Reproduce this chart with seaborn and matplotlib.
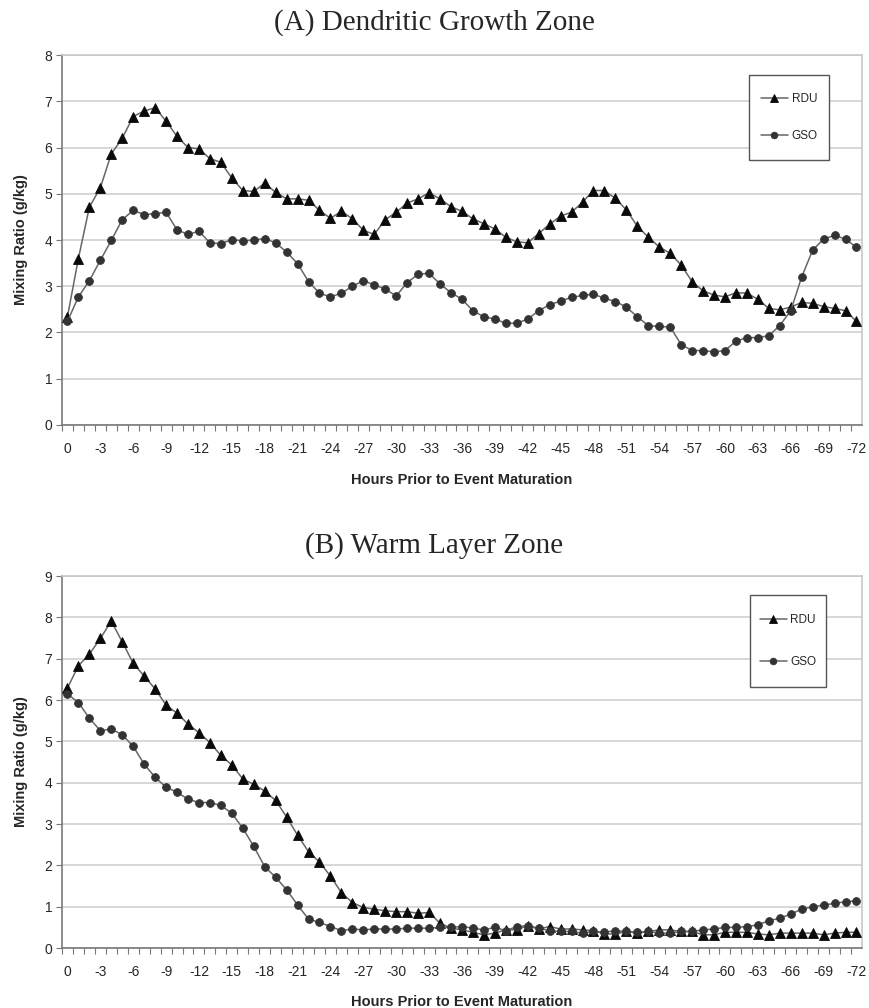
import matplotlib
matplotlib.use("Agg")
import matplotlib.pyplot as plt
from matplotlib.patches import Rectangle
from matplotlib.ticker import FixedLocator
import seaborn as sns
import pandas as pd

# ---------------- data ----------------
hours = list(range(0, -73, -1))
xtick_hours = list(range(0, -73, -3))
xtick_labels = [str(h) for h in xtick_hours]

rdu_a = [2.34, 3.6, 4.71, 5.13, 5.86, 6.2, 6.67, 6.79, 6.86, 6.57, 6.24, 6.0, 5.97, 5.76, 5.68,
         5.34, 5.07, 5.05, 5.23, 5.03, 4.89, 4.89, 4.86, 4.64, 4.47, 4.62, 4.46, 4.21, 4.12, 4.44,
         4.6, 4.8, 4.89, 5.02, 4.89, 4.72, 4.62, 4.46, 4.35, 4.24, 4.06, 3.96, 3.94, 4.14, 4.34,
         4.52, 4.6, 4.82, 5.07, 5.07, 4.9, 4.65, 4.3, 4.06, 3.85, 3.71, 3.46, 3.1, 2.9, 2.81,
         2.77, 2.86, 2.85, 2.72, 2.52, 2.49, 2.55, 2.65, 2.63, 2.56, 2.52, 2.47, 2.24]
gso_a = [2.24, 2.77, 3.12, 3.56, 3.99, 4.44, 4.64, 4.55, 4.57, 4.6, 4.22, 4.12, 4.19, 3.94, 3.92,
         4.01, 3.98, 4.0, 4.03, 3.94, 3.74, 3.49, 3.1, 2.85, 2.77, 2.85, 3.0, 3.12, 3.03, 2.94,
         2.79, 3.08, 3.26, 3.28, 3.05, 2.86, 2.72, 2.47, 2.34, 2.29, 2.2, 2.2, 2.29, 2.47, 2.6,
         2.68, 2.76, 2.8, 2.83, 2.74, 2.67, 2.55, 2.34, 2.15, 2.13, 2.12, 1.74, 1.61, 1.61, 1.58,
         1.61, 1.81, 1.89, 1.89, 1.93, 2.15, 2.47, 3.2, 3.78, 4.02, 4.1, 4.02, 3.84]
rdu_b = [6.29, 6.83, 7.11, 7.49, 7.91, 7.41, 6.89, 6.58, 6.27, 5.88, 5.68, 5.42, 5.21, 4.97, 4.66,
         4.43, 4.09, 3.96, 3.8, 3.57, 3.17, 2.73, 2.33, 2.08, 1.74, 1.34, 1.1, 0.98, 0.94, 0.9,
         0.88, 0.88, 0.84, 0.86, 0.6, 0.48, 0.44, 0.38, 0.32, 0.36, 0.44, 0.44, 0.54, 0.46, 0.52,
         0.46, 0.46, 0.44, 0.42, 0.34, 0.34, 0.4, 0.36, 0.4, 0.44, 0.44, 0.4, 0.4, 0.32, 0.32,
         0.38, 0.38, 0.38, 0.34, 0.32, 0.36, 0.36, 0.36, 0.36, 0.32, 0.36, 0.38, 0.38]
gso_b = [6.15, 5.94, 5.56, 5.26, 5.3, 5.16, 4.88, 4.45, 4.13, 3.89, 3.77, 3.6, 3.52, 3.52, 3.45,
         3.26, 2.9, 2.46, 1.97, 1.71, 1.41, 1.04, 0.7, 0.62, 0.52, 0.42, 0.46, 0.44, 0.46, 0.46,
         0.46, 0.48, 0.48, 0.48, 0.5, 0.5, 0.52, 0.48, 0.44, 0.5, 0.42, 0.52, 0.54, 0.48, 0.42,
         0.4, 0.4, 0.36, 0.4, 0.38, 0.42, 0.4, 0.38, 0.4, 0.36, 0.36, 0.4, 0.4, 0.44, 0.46,
         0.5, 0.5, 0.52, 0.56, 0.66, 0.72, 0.82, 0.94, 1.0, 1.04, 1.08, 1.12, 1.14]

stations = ["RDU", "GSO"]
titles = ["(A) Dendritic Growth Zone", "(B) Warm Layer Zone"]
ymax = [8, 9]

# ---------------- style ----------------
sns.set_style("white")
plt.rcParams["font.family"] = ["Liberation Sans", "DejaVu Sans"]

fig = plt.figure(figsize=(8.69, 10.08), dpi=100)
ax_a = fig.add_axes([0.0713, 0.5784, 0.9206, 0.3670])
ax_b = fig.add_axes([0.0713, 0.0595, 0.9206, 0.3690])

line_col = "#666666"
styles = {"RDU": dict(marker="^", ms=7.0, mfc="#0a0a0a", mec="#0a0a0a"),
          "GSO": dict(marker="o", ms=5.6, mfc="#333333", mec="#333333")}

panels = [(ax_a, rdu_a, gso_a, titles[0], ymax[0], (0.859, 0.716, 0.100, 0.230), 2.1),
          (ax_b, rdu_b, gso_b, titles[1], ymax[1], (0.860, 0.702, 0.095, 0.247), 2.5)]

for ax, rdu, gso, title, ym, box, lsp in panels:
    df = pd.DataFrame({"hours": hours * 2,
                       "value": rdu + gso,
                       "station": ["RDU"] * len(hours) + ["GSO"] * len(hours)})
    handles = []
    for st in stations:
        sub = df[df["station"] == st]
        sns.lineplot(data=sub, x="hours", y="value", ax=ax, color=line_col, lw=1.1,
                     legend=False, zorder=3)
        ln = ax.lines[-1]
        s = styles[st]
        ln.set_marker(s["marker"])
        ln.set_markersize(s["ms"])
        ln.set_markerfacecolor(s["mfc"])
        ln.set_markeredgecolor(s["mec"])
        ln.set_markeredgewidth(0.6)
        ln.set_color(line_col)
        handles.append(ln)

    ax.set_xlim(0.5, -72.5)
    ax.set_ylim(0, ym)
    ax.set_xticks(xtick_hours)
    ax.set_xticklabels(xtick_labels, fontsize=10)
    ax.xaxis.set_minor_locator(FixedLocator([h + 0.5 for h in range(0, -73, -1)]))
    ax.tick_params(axis="x", which="major", length=0, pad=12)
    ax.tick_params(axis="x", which="minor", length=4, width=0.8, color="#777777",
                   direction="out", bottom=True)
    ax.set_yticks(range(0, ym + 1))
    ax.tick_params(axis="y", which="major", length=4, width=0.8, color="#777777",
                   direction="out", left=True, labelsize=10, pad=3)
    ax.yaxis.grid(True, color="#d4d4d4", lw=1.3)
    ax.xaxis.grid(False)
    ax.set_axisbelow(True)
    for sp in ["left", "bottom"]:
        ax.spines[sp].set_color("#7a7a7a")
        ax.spines[sp].set_linewidth(1.2)
    for sp in ["top", "right"]:
        ax.spines[sp].set_color("#c8c8c8")
        ax.spines[sp].set_linewidth(1.2)

    ax.set_xlabel("Hours Prior to Event Maturation", fontsize=10.5, fontweight="bold")
    ax.set_ylabel("Mixing Ratio (g/kg)", fontsize=10.5, fontweight="bold")
    ax.yaxis.set_label_coords(-0.043, 0.5)

    # legend box
    rect = Rectangle((box[0], box[1]), box[2], box[3], transform=ax.transAxes,
                     facecolor="white", edgecolor="#555555", lw=1.0, zorder=5)
    ax.add_patch(rect)
    leg = ax.legend(handles, stations, loc="center",
                    bbox_to_anchor=(box[0] + box[2] / 2, box[1] + box[3] / 2),
                    bbox_transform=ax.transAxes, frameon=False, fontsize=8.5,
                    labelspacing=lsp, handlelength=2.3, handletextpad=0.3,
                    numpoints=1, markerscale=0.85)
    leg.set_zorder(6)

ax_a.xaxis.set_label_coords(0.5, -0.13)
ax_b.xaxis.set_label_coords(0.5, -0.125)

fig.text(0.5, 0.978, titles[0], ha="center", va="center", fontsize=21,
         family=["Liberation Serif", "DejaVu Serif"])
fig.text(0.5, 0.459, titles[1], ha="center", va="center", fontsize=21,
         family=["Liberation Serif", "DejaVu Serif"])

fig.savefig("out.png", dpi=100)
